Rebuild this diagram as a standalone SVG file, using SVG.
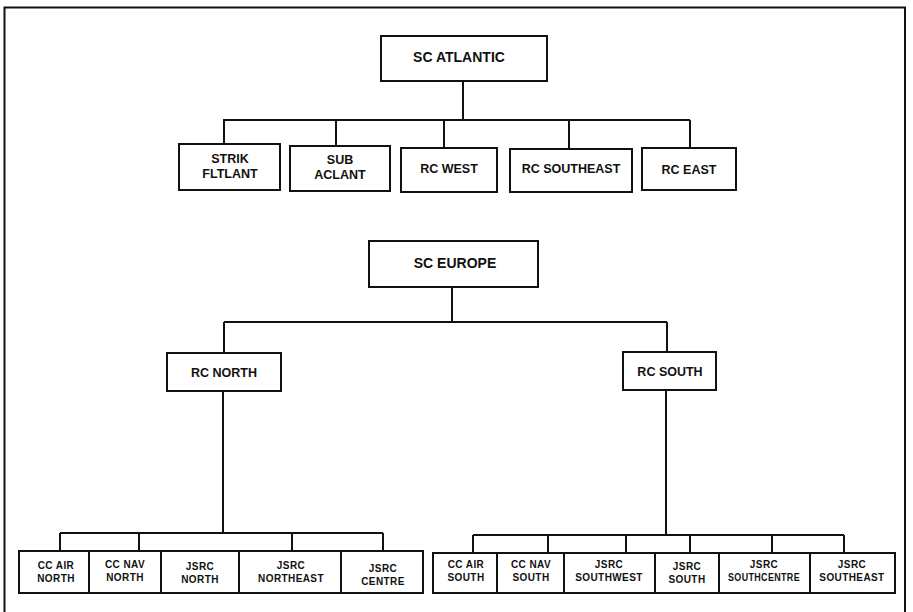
<svg xmlns="http://www.w3.org/2000/svg" width="913" height="612" viewBox="0 0 913 612">
<style>
.box{fill:#fff;stroke:#111;stroke-width:2}
.ln{fill:none;stroke:#111;stroke-width:2}
.t{font-family:"Liberation Sans",Arial,Helvetica,sans-serif;font-weight:bold;fill:#111;text-anchor:middle}
.big{font-size:14px}
.mid{font-size:12.5px}
.sm{font-size:10px;letter-spacing:0.4px}
</style>
<rect width="913" height="612" fill="#fff"/>
<path class="ln" d="M4.5,620 V7.5 H905 V620"/>
<g id="connectors">
<path class="ln" d="M463,81 V120 M223,120 H690 M224,120 V144 M336,120 V146 M444,120 V148 M569,120 V149 M690,120 V148"/>
<path class="ln" d="M452,287 V322 M224,322 H667 M224,322 V353 M667,322 V352"/>
<path class="ln" d="M223,391 V533 M60,533 H383 M60,533 V551 M139,533 V551 M292,533 V551 M383,533 V551"/>
<path class="ln" d="M666,390 V535 M473,535 H844 M473,535 V553 M548,535 V553 M626,535 V553 M690,535 V553 M772,535 V553 M844,535 V553"/>
</g>
<g id="sc-atlantic"><rect class="box" x="381" y="36" width="166" height="45"/><text class="t big" x="459" y="62">SC ATLANTIC</text></g>
<g id="strikfltlant"><rect class="box" x="179" y="144" width="101" height="46"/><text class="t mid" x="230" y="163">STRIK</text><text class="t mid" x="230" y="178">FLTLANT</text></g>
<g id="subaclant"><rect class="box" x="290" y="146" width="100" height="45"/><text class="t mid" x="340" y="164">SUB</text><text class="t mid" x="340" y="179">ACLANT</text></g>
<g id="rc-west"><rect class="box" x="401" y="148" width="96" height="44"/><text class="t mid" x="449" y="173">RC WEST</text></g>
<g id="rc-southeast"><rect class="box" x="510" y="149" width="122" height="43"/><text class="t mid" x="571" y="173">RC SOUTHEAST</text></g>
<g id="rc-east"><rect class="box" x="642" y="148" width="94" height="42"/><text class="t mid" x="689" y="174">RC EAST</text></g>
<g id="sc-europe"><rect class="box" x="369" y="241" width="169" height="46"/><text class="t big" x="455" y="268">SC EUROPE</text></g>
<g id="rc-north"><rect class="box" x="167" y="353" width="114" height="38"/><text class="t mid" x="224" y="377">RC NORTH</text></g>
<g id="rc-south"><rect class="box" x="623" y="352" width="93" height="38"/><text class="t mid" x="670" y="376">RC SOUTH</text></g>
<g id="cc-air-north"><rect class="box" x="19" y="551" width="70" height="42"/><text class="t sm" x="56" y="569">CC AIR</text><text class="t sm" x="56" y="582">NORTH</text></g>
<g id="cc-nav-north"><rect class="box" x="89" y="551" width="72" height="42"/><text class="t sm" x="125" y="568">CC NAV</text><text class="t sm" x="125" y="581">NORTH</text></g>
<g id="jsrc-north"><rect class="box" x="161" y="551" width="78" height="42"/><text class="t sm" x="200" y="570">JSRC</text><text class="t sm" x="200" y="583">NORTH</text></g>
<g id="jsrc-northeast"><rect class="box" x="239" y="551" width="102" height="42"/><text class="t sm" x="291" y="569">JSRC</text><text class="t sm" x="291" y="582">NORTHEAST</text></g>
<g id="jsrc-centre"><rect class="box" x="341" y="551" width="82" height="42"/><text class="t sm" x="383" y="572">JSRC</text><text class="t sm" x="383" y="585">CENTRE</text></g>
<g id="cc-air-south"><rect class="box" x="433" y="553" width="64" height="40"/><text class="t sm" x="466" y="568">CC AIR</text><text class="t sm" x="466" y="581">SOUTH</text></g>
<g id="cc-nav-south"><rect class="box" x="497" y="553" width="67" height="40"/><text class="t sm" x="531" y="568">CC NAV</text><text class="t sm" x="531" y="581">SOUTH</text></g>
<g id="jsrc-southwest"><rect class="box" x="564" y="553" width="91" height="40"/><text class="t sm" x="609" y="568">JSRC</text><text class="t sm" x="609" y="581">SOUTHWEST</text></g>
<g id="jsrc-south"><rect class="box" x="655" y="553" width="64" height="40"/><text class="t sm" x="687" y="570">JSRC</text><text class="t sm" x="687" y="583">SOUTH</text></g>
<g id="jsrc-southcentre"><rect class="box" x="719" y="553" width="91" height="40"/><text class="t sm" x="764" y="568">JSRC</text><text class="t sm" x="764" y="581" textLength="72" lengthAdjust="spacingAndGlyphs">SOUTHCENTRE</text></g>
<g id="jsrc-southeast"><rect class="box" x="810" y="553" width="85" height="40"/><text class="t sm" x="852" y="568">JSRC</text><text class="t sm" x="852" y="581">SOUTHEAST</text></g>
</svg>
